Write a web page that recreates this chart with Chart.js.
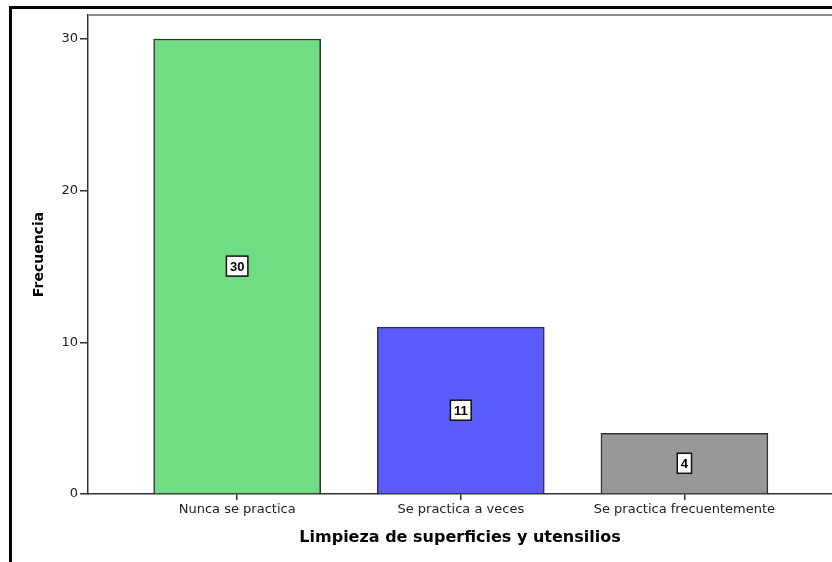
<!DOCTYPE html>
<html>
<head>
<meta charset="utf-8">
<script src="https://cdn.jsdelivr.net/npm/chart.js@4/dist/chart.umd.min.js"></script>
<style>
  html, body { margin: 0; padding: 0; background: #fff; }
  #wrap { width: 832px; height: 562px; position: relative; }
</style>
</head>
<body>
<div id="wrap"><canvas id="mycanvas" width="832" height="562"></canvas></div>
<script>
// categories and counts
var categorias = ['Nunca se practica', 'Se practica a veces', 'Se practica frecuentemente'];
var frecuencia = [30, 11, 4];
var colores = ['#70dd84', '#5a5cfd', '#989898'];
var yTicks = [0, 10, 20, 30];

var puntos = [];
for (var i in frecuencia) {
    puntos.push({ x: Number(i), y: frecuencia[i] });
}

// boxed value labels in the middle of each bar
var etiquetas = {
    id: 'etiquetas',
    afterDatasetsDraw: function(chart) {
        var ctx = chart.ctx;
        var meta = chart.getDatasetMeta(0);
        ctx.save();
        ctx.font = 'bold 13px "Liberation Sans"';
        ctx.textAlign = 'center';
        ctx.textBaseline = 'middle';
        meta.data.forEach(function(bar, j) {
            var txt = String(frecuencia[j]);
            var cy = (bar.y + bar.base) / 2;
            var w = ctx.measureText(txt).width + 7;
            var h = 20;
            ctx.fillStyle = '#fff';
            ctx.fillRect(bar.x - w / 2, cy - h / 2, w, h);
            ctx.lineWidth = 1.5;
            ctx.strokeStyle = '#111';
            ctx.strokeRect(bar.x - w / 2, cy - h / 2, w, h);
            ctx.fillStyle = '#000';
            ctx.fillText(txt, bar.x, cy + 1);
        });
        ctx.restore();
    }
};

// outer black frame and grey top edge of the plot
var marco = {
    id: 'marco',
    afterDraw: function(chart) {
        var ctx = chart.ctx;
        var a = chart.chartArea;
        ctx.save();
        ctx.strokeStyle = '#8a8a8a';
        ctx.lineWidth = 2;
        ctx.beginPath();
        ctx.moveTo(a.left, a.top);
        ctx.lineTo(chart.width, a.top);
        ctx.stroke();
        ctx.strokeStyle = '#000';
        ctx.lineWidth = 3;
        ctx.beginPath();
        ctx.moveTo(10.5, chart.height);
        ctx.lineTo(10.5, 7.5);
        ctx.lineTo(chart.width, 7.5);
        ctx.stroke();
        ctx.restore();
    }
};

var ctx = document.getElementById('mycanvas');
var barGraph = new Chart(ctx, {
    type: 'bar',
    data: {
        datasets: [{
            label: 'Frecuencia',
            data: puntos,
            backgroundColor: colores,
            borderColor: '#333',
            borderWidth: 1.5,
            barThickness: 167
        }]
    },
    options: {
        responsive: false,
        animation: false,
        layout: { padding: { top: 15, right: 0, left: 0, bottom: 0 } },
        plugins: { legend: { display: false }, tooltip: { enabled: false } },
        scales: {
            x: {
                type: 'linear',
                min: -0.667,
                max: 2.66,
                offset: false,
                afterFit: function(s) { s.height = 68; },
                afterBuildTicks: function(s) {
                    s.ticks = categorias.map(function(c, k) { return { value: k }; });
                },
                grid: { offset: false, drawOnChartArea: false, drawTicks: true, tickLength: 6, color: '#333', lineWidth: 1.5 },
                border: { display: true, color: '#333', width: 1.5 },
                ticks: {
                    color: '#222',
                    padding: 2,
                    maxRotation: 0,
                    autoSkip: false,
                    font: { family: 'DejaVu Sans', size: 13 },
                    callback: function(v) { return categorias[v]; }
                },
                title: {
                    display: true,
                    text: 'Limpieza de superficies y utensilios',
                    color: '#000',
                    font: { family: 'DejaVu Sans', size: 16, weight: 'bold' },
                    padding: { top: 0, bottom: 15 }
                }
            },
            y: {
                min: 0,
                max: 31.58,
                afterFit: function(s) { s.width = 88; },
                afterBuildTicks: function(s) {
                    s.ticks = yTicks.map(function(v) { return { value: v }; });
                },
                grid: { drawOnChartArea: false, drawTicks: true, tickLength: 8, color: '#333', lineWidth: 1.5 },
                border: { display: true, color: '#333', width: 1.5 },
                ticks: {
                    color: '#222',
                    padding: 2,
                    font: { family: 'DejaVu Sans', size: 13 }
                },
                title: {
                    display: true,
                    text: 'Frecuencia',
                    color: '#000',
                    font: { family: 'DejaVu Sans', size: 14, weight: 'bold' },
                    padding: { top: 31, bottom: 0 }
                }
            }
        }
    },
    plugins: [etiquetas, marco]
});
</script>
</body>
</html>
